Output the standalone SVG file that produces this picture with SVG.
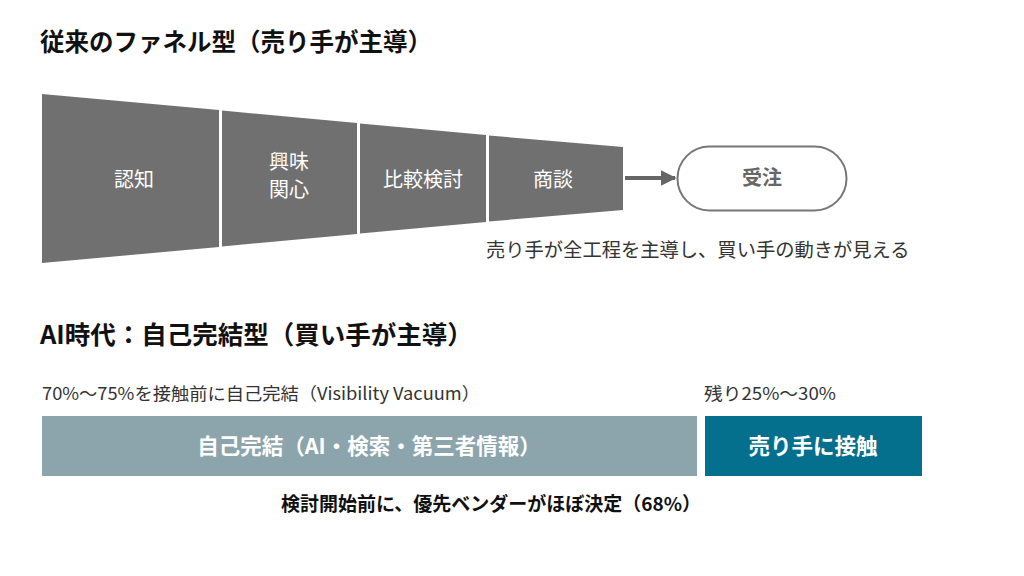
<svg xmlns="http://www.w3.org/2000/svg" width="1024" height="576" viewBox="0 0 1024 576">
<defs>
<style>
text{font-family:"Noto Sans CJK JP","Noto Sans",sans-serif;}
.title{font-weight:700;fill:#111;}
.seg{fill:#707070;}
.segt{font-size:20px;fill:#fff;text-anchor:middle;}
.cap{font-size:19.3px;fill:#333;}
.sub{font-size:17.5px;fill:#333;}
.bart{font-size:21.5px;font-weight:700;fill:#fff;text-anchor:middle;}
</style>
<marker id="ah" viewBox="0 0 10 10" refX="9" refY="5" markerWidth="4" markerHeight="4" orient="auto" markerUnits="strokeWidth">
<path d="M0,0 L10,5 L0,10 z" fill="#666"/>
</marker>
</defs>
<rect width="1024" height="576" fill="#fff"/>
<text class="title" x="40" y="51" font-size="24.5">従来のファネル型（売り手が主導）</text>
<g id="funnel-awareness">
<polygon class="seg" points="42,94 219,110 219,247 42,263"/>
<text class="segt" x="134" y="187">認知</text>
</g>
<g id="funnel-interest">
<polygon class="seg" points="222,110.5 357,123 357,234 222,246.5"/>
<text class="segt" x="289" y="169">興味</text>
<text class="segt" x="289" y="197">関心</text>
</g>
<g id="funnel-compare">
<polygon class="seg" points="360,123.5 486,135 486,222 360,233.5"/>
<text class="segt" x="423" y="187">比較検討</text>
</g>
<g id="funnel-negotiation">
<polygon class="seg" points="489,135.5 623,147 623,210 489,221.5"/>
<text class="segt" x="553" y="187">商談</text>
</g>
<g id="connectors">
<line x1="625" y1="178" x2="675" y2="178" stroke="#666" stroke-width="4" marker-end="url(#ah)"/>
</g>
<g id="order">
<rect x="677.5" y="146.5" width="169" height="64" rx="32" fill="#fff" stroke="#777" stroke-width="2"/>
<text x="762" y="185" font-size="20" font-weight="700" fill="#666" text-anchor="middle">受注</text>
</g>
<text class="cap" x="486" y="257">売り手が全工程を主導し、買い手の動きが見える</text>
<text class="title" x="40" y="344" font-size="25.5">AI時代：自己完結型（買い手が主導）</text>
<text class="sub" x="42" y="400" textLength="438" lengthAdjust="spacingAndGlyphs">70%〜75%を接触前に自己完結（Visibility Vacuum）</text>
<text class="sub" x="704" y="400" textLength="132" lengthAdjust="spacingAndGlyphs">残り25%〜30%</text>
<g id="self-complete">
<rect x="42" y="416" width="655" height="60" fill="#8ca5ad"/>
<text class="bart" x="369" y="454">自己完結（AI・検索・第三者情報）</text>
</g>
<g id="contact-seller">
<rect x="705" y="416" width="217" height="60" fill="#05708e"/>
<text class="bart" x="813" y="454">売り手に接触</text>
</g>
<text x="491" y="511" font-size="19" font-weight="700" fill="#111" text-anchor="middle">検討開始前に、優先ベンダーがほぼ決定（68%）</text>
</svg>
